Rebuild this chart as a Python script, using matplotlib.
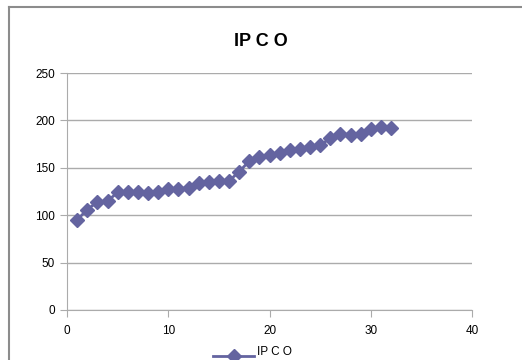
import matplotlib.pyplot as plt
from matplotlib.lines import Line2D

# IPCO series
x_vals = list(range(1, 33))
ipco = [95, 106, 114, 115, 124, 125, 125, 123, 125, 128, 128, 129,
        134, 135, 136, 136, 146, 157, 161, 164, 166, 169, 170, 172,
        174, 181, 186, 185, 186, 191, 193, 192]
x_ticks = [0, 10, 20, 30, 40]
y_ticks = [0, 50, 100, 150, 200, 250]

color = '#6464A0'
grid_col = '#ABABAB'

plt.rcParams['font.family'] = ['Liberation Sans', 'DejaVu Sans']

W, H = 522, 360
fig = plt.figure(figsize=(W / 100, H / 100), dpi=100)
ax = fig.add_axes([67/W, 1 - 310/H, 405/W, 237/H])

ax.plot(x_vals, ipco, color=color, lw=2, marker='D', ms=7,
        markerfacecolor=color, markeredgecolor=color, zorder=3)

ax.set_xlim(0, 40)
ax.set_ylim(0, 250)
ax.set_xticks(x_ticks)
ax.set_yticks(y_ticks)
ax.yaxis.grid(True, color=grid_col, lw=1)
ax.set_axisbelow(True)
for s in ['top', 'right']:
    ax.spines[s].set_visible(False)
for s in ['left', 'bottom']:
    ax.spines[s].set_color(grid_col)
ax.tick_params(axis='both', colors=grid_col, labelcolor='black',
               labelsize=8.5, length=5, direction='out')
ax.tick_params(axis='x', pad=6)

fig.text(0.5, 1 - 42/H, 'IP C O', ha='center', va='center',
         fontsize=13, fontweight='bold')

# legend at the bottom edge
ly = 1 - 356/H
fig.add_artist(Line2D([213/W, 254/W], [ly, ly], color=color, lw=2,
                      transform=fig.transFigure))
fig.add_artist(Line2D([234/W], [ly], color=color, marker='D', ms=7,
                      transform=fig.transFigure))
fig.text(257/W, 1 - 358/H, 'IP C O', ha='left', va='bottom', fontsize=8.5)

# chart frame (only left and top edges visible)
frame = '#8C8C8C'
fig.add_artist(Line2D([9/W, 9/W], [0, 1 - 7/H], color=frame, lw=1.5,
                      transform=fig.transFigure))
fig.add_artist(Line2D([9/W, 1], [1 - 7/H, 1 - 7/H], color=frame, lw=1.5,
                      transform=fig.transFigure))

fig.savefig('out.png', dpi=100)
